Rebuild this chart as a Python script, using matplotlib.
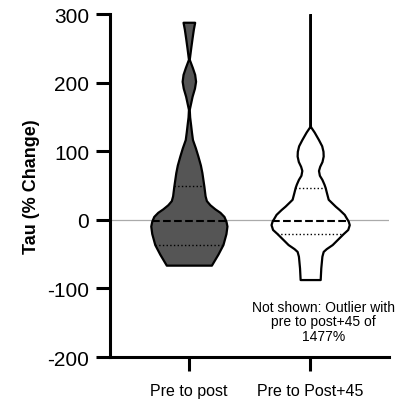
import numpy as np
import matplotlib.pyplot as plt

plt.rcParams['font.family'] = ['Liberation Sans', 'DejaVu Sans']
plt.rcParams['axes.unicode_minus'] = False

groups = ['Pre to post', 'Pre to Post+45']

# violin outlines: % change level and half width (relative)
post_y = [288, 278, 265, 250, 234, 222, 212, 202, 192, 180, 161, 150, 138, 128, 117,
          105, 93, 80, 69, 49, 35, 28, 22, 16, 11, 5, -2, -9, -20, -36, -50, -66]
post_w = [5.8, 4.5, 3.2, 1.8, 0.4, 3.5, 5.8, 6.7, 5.6, 3.2, 0.4, 0.8, 1.8, 2.6, 3.6,
          6.5, 9, 11.5, 13, 15, 16.2, 17.5, 21, 26, 31, 35, 37, 38, 37, 34, 29, 22.5]
post_q = [-36, -2, 49]

p45_y = [300, 250, 200, 150, 136, 128, 117, 108, 100, 93, 85, 78, 72, 65, 59, 52,
         47, 40, 30, 20, 15, 8, -2, -7, -14, -20, -28, -36, -42, -46, -53, -70, -87]
p45_w = [0, 0, 0, 0, 0.3, 4, 8.3, 11.5, 12.8, 13, 11.8, 9.5, 8.3, 9.2, 11.7, 13.8,
         15, 16.2, 18, 25, 29, 34, 38, 39, 37.5, 33, 27.5, 22, 16, 13, 11.7, 10.6, 10]
p45_q = [-20, -2, 47]

fills = ['#555555', 'white']
px_per_unit = 121.0

fig = plt.figure(figsize=(3.98, 4.06), dpi=100)
ax = fig.add_axes([0.2764, 0.118, 0.7010, 0.845])

ax.axhline(0, color='#aaaaaa', lw=0.9, zorder=1)

for i, (ys, ws, qs) in enumerate([(post_y, post_w, post_q), (p45_y, p45_w, p45_q)]):
    ys = np.array(ys, float)
    ws = np.array(ws, float) / px_per_unit
    ax.fill_betweenx(ys, i - ws, i + ws, facecolor=fills[i], edgecolor='black',
                     lw=1.6, zorder=2)
    order = np.argsort(ys)
    for q, style, lw in zip(qs, [':', '--', ':'], [1.0, 1.5, 1.0]):
        hw = np.interp(q, ys[order], ws[order])
        ax.plot([i - hw, i + hw], [q, q], color='black', ls=style, lw=lw, zorder=3)

ax.set_xlim(-0.65, 1.65)
ax.set_ylim(-200, 300)
ax.set_yticks([-200, -100, 0, 100, 200, 300])
ax.set_xticks([0, 1])
ax.set_xticklabels(groups)

for s in ['top', 'right']:
    ax.spines[s].set_visible(False)
for s in ['left', 'bottom']:
    ax.spines[s].set_linewidth(2.2)
ax.tick_params(axis='y', length=10, width=2.2, labelsize=15, pad=5)
ax.tick_params(axis='x', length=10, width=2.2, labelsize=11.5, pad=9)

ax.set_ylabel('Tau (% Change)', fontsize=13, fontweight='bold', labelpad=5)

ax.text(1.11, -148, 'Not shown: Outlier with\npre to post+45 of\n1477%',
        ha='center', va='center', fontsize=10, linespacing=1.05)

fig.savefig('out.png', dpi=100)
